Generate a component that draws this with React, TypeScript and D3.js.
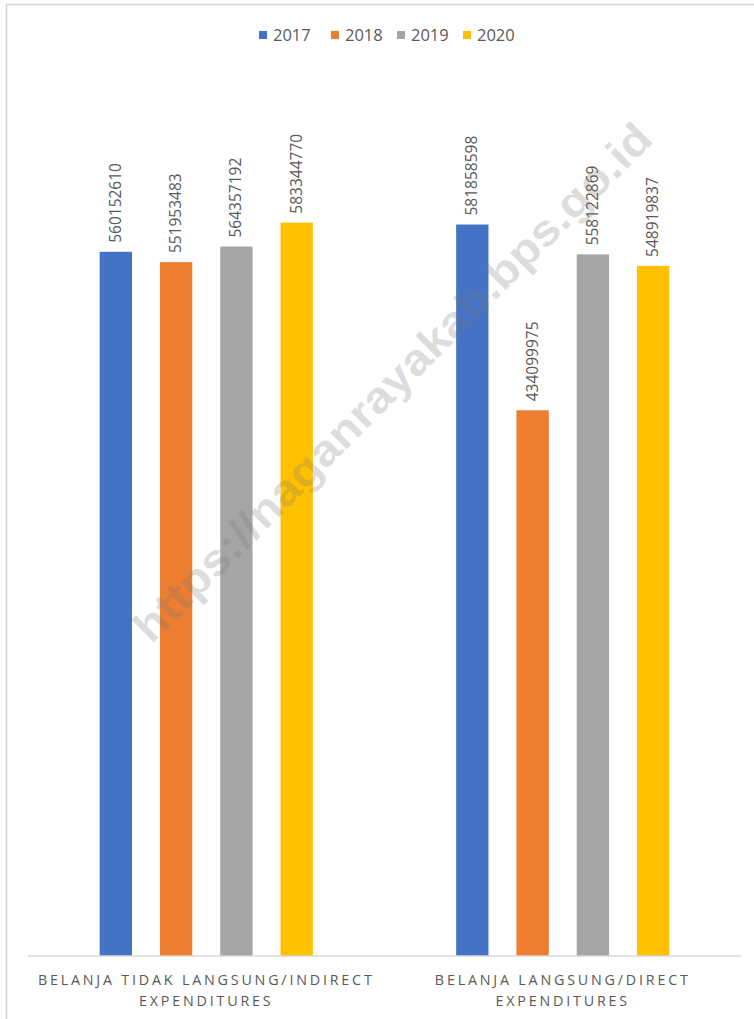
import React from "react";
import * as d3 from "d3";

const categories = ["BELANJA TIDAK LANGSUNG/INDIRECT|EXPENDITURES", "BELANJA LANGSUNG/DIRECT|EXPENDITURES"];
const years = ["2017", "2018", "2019", "2020"];
const colors = ["#4472C4", "#ED7D31", "#A5A5A5", "#FFC000"];
const values2017 = [560152610, 581858598];
const values2018 = [551953483, 434099975];
const values2019 = [564357192, 558122869];
const values2020 = [583344770, 548919837];
const seriesValues = [values2017, values2018, values2019, values2020];
const watermark = "https://naganrayakab.bps.go.id";

const W = 754;
const H = 1019;
const plotLeft = 28;
const plotRight = 741;
const baseY = 956;
const topY = 76;

export default function App() {
  const x0 = d3.scaleBand<number>().domain([0, 1]).range([plotLeft, plotRight]).padding(0);
  const groupInner = 213.2;
  const x1 = d3
    .scaleBand<number>()
    .domain([0, 1, 2, 3])
    .range([0, groupInner])
    .paddingInner(0.464)
    .paddingOuter(0);
  const y = d3.scaleLinear().domain([0, 700000000]).range([baseY, topY]);
  const offset = (x0.bandwidth() - groupInner) / 2;
  const fontLabel = "'Open Sans', 'Liberation Sans', sans-serif";
  const textColor = "#595959";

  const legendX = [259, 331, 397, 463];

  return (
    <svg
      width={W}
      height={H}
      style={{ position: "absolute", left: 0, top: 0, background: "#fff" }}
      fontFamily={fontLabel}
    >
      <rect x={0} y={0} width={W} height={H} fill="#fff" />
      <rect x={6.5} y={4.5} width={W + 20} height={H + 20} fill="none" stroke="#d4d4d4" strokeWidth={1.5} />

      {/* legend */}
      {years.map((yr, i) => (
        <g key={yr}>
          <rect x={legendX[i]} y={31} width={8} height={8} fill={colors[i]} />
          <text x={legendX[i] + 14} y={41} fontSize={16.5} fill={textColor}>
            {yr}
          </text>
        </g>
      ))}

      {/* bars */}
      {categories.map((cat, ci) => (
        <g key={cat} transform={`translate(${(x0(ci) as number) + offset},0)`}>
          {seriesValues.map((vals, si) => {
            const bx = x1(si) as number;
            const bw = x1.bandwidth();
            const v = vals[ci];
            const cx = bx + bw / 2;
            const ty = y(v);
            return (
              <g key={si}>
                <rect x={bx} y={ty} width={bw} height={baseY - ty} fill={colors[si]} />
                <text
                  transform={`translate(${cx + 5},${ty - 9}) rotate(-90)`}
                  fontSize={15.5}
                  fill={textColor}
                  textAnchor="start"
                >
                  {String(v)}
                </text>
              </g>
            );
          })}
        </g>
      ))}

      {/* axis line */}
      <line x1={plotLeft} x2={plotRight} y1={baseY} y2={baseY} stroke="#d9d9d9" strokeWidth={1.5} />

      {/* category labels */}
      {categories.map((cat, ci) => {
        const cx = (x0(ci) as number) + x0.bandwidth() / 2;
        const lines = cat.split("|");
        return (
          <g key={cat}>
            {lines.map((ln, li) => (
              <text
                key={li}
                x={cx}
                y={985 + li * 21}
                fontSize={14.3}
                letterSpacing={2.8}
                textAnchor="middle"
                fill={textColor}
              >
                {ln}
              </text>
            ))}
          </g>
        );
      })}

      {/* watermark */}
      <text
        transform={`translate(392,382) rotate(-45)`}
        textAnchor="middle"
        dominantBaseline="central"
        fontFamily="'Liberation Sans', Arial, sans-serif"
        fontWeight="bold"
        fontSize={44}
        fill="rgba(120,120,120,0.25)"
        textLength={712}
        lengthAdjust="spacingAndGlyphs"
      >
        {watermark}
      </text>
    </svg>
  );
}
